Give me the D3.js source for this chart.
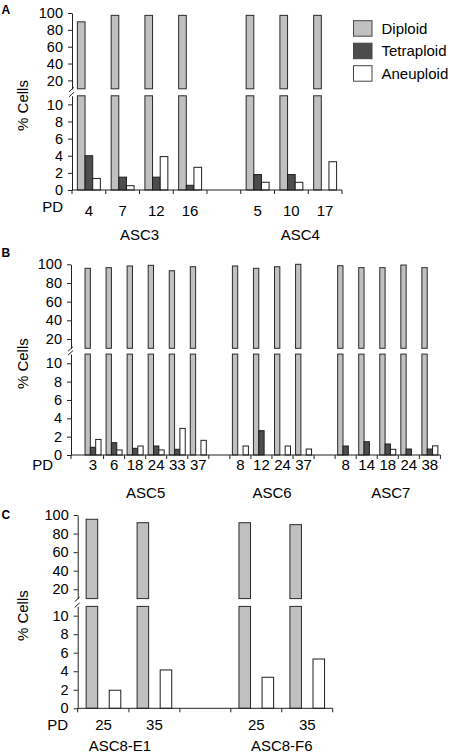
<!DOCTYPE html>
<html>
<head>
<meta charset="utf-8">
<script src="https://cdn.jsdelivr.net/npm/d3@7"></script>
<style>
  html, body { margin: 0; padding: 0; background: #fff; }
  svg { display: block; font-family: "Liberation Sans", Arial, sans-serif; }
</style>
</head>
<body>
<svg id="chart" width="450" height="754"></svg>
<script>
// ---------------- DATA ----------------
const seriesNames = ["Diploid", "Tetraploid", "Aneuploid"];
const upperTicks = [20, 40, 60, 80, 100];
const lowerTicks = [0, 2, 4, 6, 8, 10];

// Panel A
const groupsA   = ["ASC3", "ASC4"];
const pdA       = ["4", "7", "12", "16", "5", "10", "17"];
const groupOfA  = ["ASC3", "ASC3", "ASC3", "ASC3", "ASC4", "ASC4", "ASC4"];
const diploidA  = [89.5, 97.2, 97.2, 97.2, 97.2, 97.2, 97.2];
const tetraA    = [4.0, 1.5, 1.5, 0.55, 1.8, 1.8, 0];
const aneuA     = [1.35, 0.5, 3.9, 2.65, 0.9, 0.9, 3.3];

// Panel B
const groupsB   = ["ASC5", "ASC6", "ASC7"];
const pdB       = ["3", "6", "18", "24", "33", "37", "8", "12", "24", "37", "8", "14", "18", "24", "38"];
const groupOfB  = ["ASC5", "ASC5", "ASC5", "ASC5", "ASC5", "ASC5", "ASC6", "ASC6", "ASC6", "ASC6", "ASC7", "ASC7", "ASC7", "ASC7", "ASC7"];
const diploidB  = [95.7, 96.4, 98.2, 98.9, 93.1, 97.4, 98.2, 95.7, 97.4, 100, 98.5, 96.4, 96.4, 99.2, 96.4];
const tetraB    = [0.84, 1.34, 0.73, 0.98, 0.62, 0, 0, 2.65, 0, 0, 0.98, 1.45, 1.2, 0.65, 0.65];
const aneuB     = [1.7, 0.55, 0.98, 0.55, 2.9, 1.6, 0.98, 0, 0.98, 0.65, 0, 0, 0.62, 0, 1.0];

// Panel C
const groupsC   = ["ASC8-E1", "ASC8-F6"];
const pdC       = ["25", "35", "25", "35"];
const groupOfC  = ["ASC8-E1", "ASC8-E1", "ASC8-F6", "ASC8-F6"];
const diploidC  = [95.4, 91.7, 91.7, 89.6];
const tetraC    = [0, 0, 0, 0];
const aneuC     = [1.95, 4.14, 3.35, 5.32];

// ---------------- STYLE ----------------
const fills   = { Diploid: "#c0c0c0", Tetraploid: "#4d4d4d", Aneuploid: "#ffffff" };
const strokes = { Diploid: "#2a2a2a", Tetraploid: "#1e1e1e", Aneuploid: "#1e1e1e" };
const FONT = 15;
const TICKFONT = 14.5;

const svg = d3.select("#chart");

function buildRows(pd, groupOf, dip, tet, ane) {
  return pd.map((p, i) => ({
    key: groupOf[i] + "|" + p + "|" + i,
    pd: p, group: groupOf[i],
    values: { Diploid: dip[i], Tetraploid: tet[i], Aneuploid: ane[i] }
  }));
}

function drawPanel(cfg, groups, rows) {
  const g = svg.append("g");
  const keys = [];
  groups.forEach((gr, gi) => {
    if (gi > 0) keys.push("gap" + gi);
    rows.filter(r => r.group === gr).forEach(r => keys.push(r.key));
  });
  const x = d3.scaleBand().domain(keys).range([cfg.xStart, cfg.xEnd])
    .paddingInner(cfg.pad).paddingOuter(cfg.pad / 2);
  const xs = d3.scaleBand().domain(seriesNames).range([0, x.bandwidth()]);
  const yU = d3.scaleLinear().domain([10, 100]).range(cfg.upperRange);
  const yL = d3.scaleLinear().domain([0, 11]).range(cfg.lowerRange);

  rows.forEach(r => {
    seriesNames.forEach(s => {
      const v = r.values[s];
      if (!v) return;
      const bx = x(r.key) + xs(s);
      const common = sel => sel.attr("x", bx).attr("width", xs.bandwidth())
        .attr("fill", fills[s]).attr("stroke", strokes[s]).attr("stroke-width", 1);
      if (v > 11) {
        g.append("rect").call(common).attr("y", yU(v)).attr("height", yU(10) - yU(v));
        g.append("rect").call(common).attr("y", yL(11)).attr("height", yL(0) - yL(11));
      } else {
        g.append("rect").call(common).attr("y", yL(v)).attr("height", yL(0) - yL(v));
      }
    });
  });

  const ax = cfg.axisX;
  const upAxis = g.append("g").attr("transform", `translate(${ax},0)`)
    .call(d3.axisLeft(yU).tickValues(upperTicks).tickSize(4).tickPadding(5).tickSizeOuter(0));
  const loAxis = g.append("g").attr("transform", `translate(${ax},0)`)
    .call(d3.axisLeft(yL).tickValues(lowerTicks).tickSize(4).tickPadding(5).tickSizeOuter(0));
  [upAxis, loAxis].forEach(a => {
    a.select(".domain").attr("stroke", "#222");
    a.selectAll(".tick line").attr("stroke", "#222");
    a.selectAll(".tick text").attr("font-size", TICKFONT).attr("fill", "#000")
      .attr("font-family", "'Liberation Sans', Arial, sans-serif");
  });

  [yU(10) + 1, yL(11) - 1].forEach(by => {
    g.append("line").attr("x1", ax - 3).attr("y1", by + 2).attr("x2", ax + 2).attr("y2", by - 2.5)
      .attr("stroke", "#222").attr("stroke-width", 1);
  });

  const y0 = yL(0);
  g.append("line").attr("x1", ax).attr("x2", cfg.xEnd).attr("y1", y0).attr("y2", y0)
    .attr("stroke", "#222").attr("stroke-width", 1);
  const step = x.step();
  const tickXs = [ax];
  for (let i = 1; i <= keys.length; i++) tickXs.push(cfg.xStart + i * step);
  tickXs.forEach(tx => {
    g.append("line").attr("x1", tx).attr("x2", tx).attr("y1", y0).attr("y2", y0 + 4)
      .attr("stroke", "#222").attr("stroke-width", 1);
  });

  rows.forEach(r => {
    g.append("text").attr("x", x(r.key) + x.bandwidth() / 2).attr("y", cfg.tickBaseline)
      .attr("text-anchor", "middle").attr("font-size", FONT).text(r.pd);
  });
  g.append("text").attr("x", cfg.pdX).attr("y", cfg.pdBaseline).attr("text-anchor", "end")
    .attr("font-size", FONT).text("PD");

  groups.forEach(gr => {
    const gk = rows.filter(r => r.group === gr).map(r => r.key);
    const first = x(gk[0]) - x.step() * cfg.pad / 2;
    const last = x(gk[gk.length - 1]) + x.bandwidth() + x.step() * cfg.pad / 2;
    const nudge = (cfg.nudge && cfg.nudge[gr]) || 0;
    g.append("text").attr("x", (first + last) / 2 + nudge).attr("y", cfg.groupBaseline)
      .attr("text-anchor", "middle").attr("font-size", FONT).text(gr);
  });

  const ymid = (yU(100) + yL(0)) / 2 + 4;
  g.append("text").attr("transform", `translate(${cfg.yLabelX},${ymid}) rotate(-90)`)
    .attr("text-anchor", "middle").attr("font-size", FONT).text("% Cells");

  g.append("text").attr("x", 1.5).attr("y", cfg.letterY).attr("font-size", 12)
    .attr("font-weight", "bold").text(cfg.letter);
}

drawPanel({
  letter: "A", letterY: 13.5,
  axisX: 72, xStart: 72, xEnd: 342, pad: 0.32,
  upperRange: [88.8, 13], lowerRange: [190, 95.8],
  tickBaseline: 216, pdX: 63, pdBaseline: 212, groupBaseline: 240,
  yLabelX: 28, nudge: { ASC4: 9 }
}, groupsA, buildRows(pdA, groupOfA, diploidA, tetraA, aneuA));

drawPanel({
  letter: "B", letterY: 257,
  axisX: 71, xStart: 82.5, xEnd: 440.4, pad: 0.24,
  upperRange: [348.3, 264.3], lowerRange: [455, 354.1],
  tickBaseline: 470, pdX: 53, pdBaseline: 470, groupBaseline: 498,
  yLabelX: 28, nudge: { ASC7: 3 }
}, groupsB, buildRows(pdB, groupOfB, diploidB, tetraB, aneuB));

drawPanel({
  letter: "C", letterY: 518.5,
  axisX: 77.7, xStart: 78, xEnd: 332.7, pad: 0.32,
  upperRange: [598.6, 515], lowerRange: [708.3, 606.4],
  tickBaseline: 730, pdX: 68, pdBaseline: 730, groupBaseline: 750.5,
  yLabelX: 28, nudge: { "ASC8-E1": -9 }
}, groupsC, buildRows(pdC, groupOfC, diploidC, tetraC, aneuC));

const leg = svg.append("g");
seriesNames.forEach((s, i) => {
  const ly = 20.7 + i * 22.5;
  leg.append("rect").attr("x", 353.5).attr("y", ly).attr("width", 18.5).attr("height", 15.5)
    .attr("fill", fills[s]).attr("stroke", "#444").attr("stroke-width", 1);
  leg.append("text").attr("x", 381.5).attr("y", ly + 13).attr("font-size", FONT).text(s);
});
</script>
</body>
</html>
